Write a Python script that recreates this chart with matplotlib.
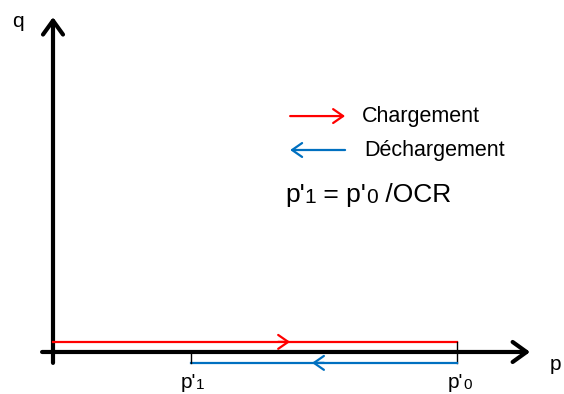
import matplotlib.pyplot as plt

# values (arbitrary units)
p0 = 10.0          # p'0
ocr = 2.93
p1 = p0 / ocr      # p'1 = p'0 / OCR
q_load = 0.25      # loading path drawn just above the p axis
q_unload = -0.27   # unloading path drawn just below
load_mark = 5.87   # where the arrow sits on the loading path
unload_mark = 6.41 # where the arrow sits on the unloading path

red = "#ff0000"
blue = "#0070c0"
font = "Liberation Sans"

fig = plt.figure(figsize=(5.64, 3.94), dpi=100)
ax = fig.add_axes([0, 0, 1, 1])
ax.set_xlim(-1.312, 12.649)
ax.set_ylim(-1.040, 8.713)
ax.axis("off")


def arrow(x0, y0, x1, y1, color, lw, hl, hw):
    ax.annotate("", xy=(x1, y1), xytext=(x0, y0),
                arrowprops=dict(arrowstyle=f"->,head_length={hl},head_width={hw}",
                                color=color, lw=lw, shrinkA=0, shrinkB=0,
                                mutation_scale=20))


def label(x, y, pieces, **kw):
    # pieces: list of (text, size), laid out one after another
    t = ax.text(x, y, pieces[0][0], fontsize=pieces[0][1], family=font,
                va="bottom", **kw)
    for s, size in pieces[1:]:
        t = ax.annotate(s, xy=(1, 0), xycoords=t, fontsize=size,
                        family=font, va="bottom", ha="left")
    return t


# axes
arrow(0, q_unload, 0, 8.29, "black", 3, 0.5, 0.36)
arrow(-0.27, 0, 11.81, 0, "black", 3, 0.5, 0.36)

# loading path
ax.plot([0, p0], [q_load, q_load], color=red, lw=1.6, zorder=3)
arrow(load_mark - 0.3, q_load, load_mark, q_load, red, 1.6, 0.36, 0.25)

# unloading path
ax.plot([p0, p0], [q_load, q_unload], color="black", lw=1, zorder=3)
ax.plot([p0, p1], [q_unload, q_unload], color=blue, lw=1.6, zorder=3)
ax.plot([p1, p1], [0, q_unload], color="black", lw=1, zorder=3)
arrow(unload_mark + 0.3, q_unload, unload_mark, q_unload, blue, 1.6, 0.36, 0.25)

# axis names
ax.text(-1.0, 8.05, "q", fontsize=15, family=font, va="baseline")
ax.text(12.3, -0.45, "p", fontsize=15, family=font, va="baseline")

# tick labels
label(p1 - 0.25, -1.0, [("p'", 15), ("1", 11)])
label(p0 - 0.22, -1.0, [("p'", 15), ("0", 11)])

# legend
arrow(5.87, 5.84, 7.23, 5.84, red, 1.6, 0.36, 0.25)
arrow(7.23, 5.0, 5.87, 5.0, blue, 1.6, 0.36, 0.25)
ax.text(7.65, 5.84, "Chargement", fontsize=15.5, family=font, va="center")
ax.text(7.70, 4.98, "Déchargement", fontsize=15.5, family=font, va="center")

# relation
label(5.74, 3.6, [("p'", 19), ("1", 15), (" = p'", 19), ("0", 15), (" /OCR", 19)])

fig.savefig("out.png", dpi=100)
